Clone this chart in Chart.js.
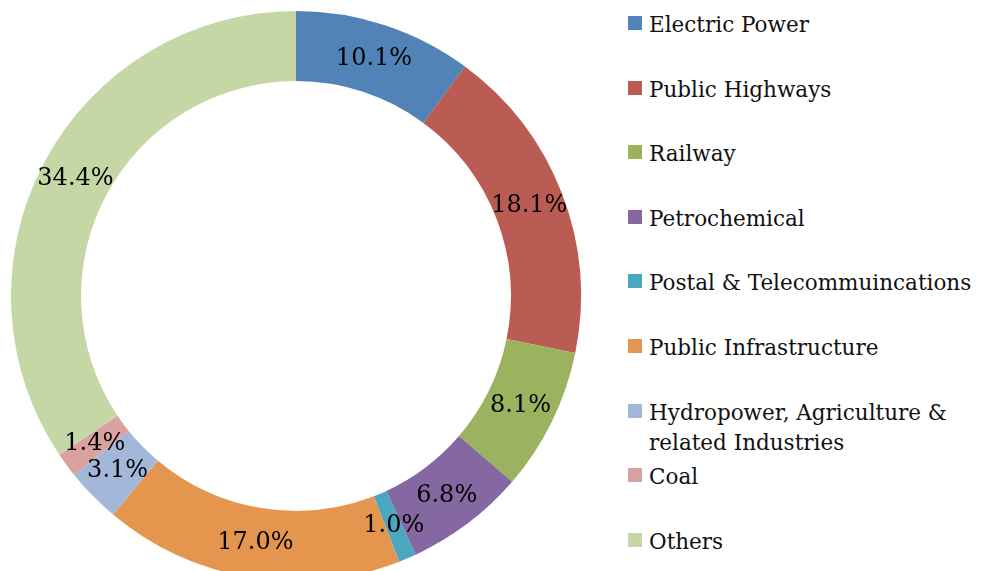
<!DOCTYPE html>
<html>
<head>
<meta charset="utf-8">
<script src="https://cdn.jsdelivr.net/npm/chart.js@4.4.1/dist/chart.umd.min.js"></script>
<style>
  html, body { margin: 0; padding: 0; background: #fff; width: 982px; height: 571px; overflow: hidden; }
  #wrap { position: absolute; left: 0; top: 0; width: 592px; height: 592px; }
  #legend { position: absolute; left: 628px; top: 0; font-family: 'DejaVu Serif', serif; font-size: 21.5px; color: #111; }
  .item { position: absolute; left: 0; white-space: nowrap; line-height: 30px; }
  .box { position: absolute; left: 0; top: 8px; width: 14px; height: 14px; }
  .txt { position: absolute; left: 21px; top: 2px; }
</style>
</head>
<body>
<div id="wrap"><canvas id="chart"></canvas></div>
<div id="legend"></div>
<script>
const categories = ['Electric Power', 'Public Highways', 'Railway', 'Petrochemical', 'Postal & Telecommuincations',
  'Public Infrastructure', 'Hydropower, Agriculture & related Industries', 'Coal', 'Others'];
const legendLines = [['Electric Power'], ['Public Highways'], ['Railway'], ['Petrochemical'], ['Postal & Telecommuincations'],
  ['Public Infrastructure'], ['Hydropower, Agriculture &', 'related Industries'], ['Coal'], ['Others']];
const shares = [10.1, 18.1, 8.1, 6.8, 1.0, 17.0, 3.1, 1.4, 34.4];
const colors = ['#5283b7', '#bb5c54', '#9bb35e', '#8568a1', '#4aa7bf', '#e4964e', '#a3b7d9', '#d9a19f', '#c6d7a6'];

// legend (html)
const legend = document.getElementById('legend');
legendLines.forEach((lines, i) => {
  const el = document.createElement('div');
  el.className = 'item';
  el.style.top = (8 + i * 64.6) + 'px';
  el.innerHTML = `<span class="box" style="background:${colors[i]}"></span><span class="txt">${lines.map(l => l.replace('&', '&amp;')).join('<br>')}</span>`;
  legend.appendChild(el);
});

const sliceLabels = {
  id: 'sliceLabels',
  afterDatasetsDraw(chart) {
    const { ctx } = chart;
    const meta = chart.getDatasetMeta(0);
    ctx.save();
    ctx.font = '24px "DejaVu Serif", serif';
    ctx.fillStyle = '#000';
    ctx.textAlign = 'center';
    ctx.textBaseline = 'middle';
    meta.data.forEach((arc, i) => {
      const p = arc.getCenterPoint();
      ctx.fillText(shares[i].toFixed(1) + '%', p.x, p.y);
    });
    ctx.restore();
  }
};

new Chart(document.getElementById('chart'), {
  type: 'doughnut',
  data: {
    labels: categories,
    datasets: [{ data: shares, backgroundColor: colors, borderWidth: 0 }]
  },
  options: {
    responsive: true,
    maintainAspectRatio: false,
    animation: false,
    cutout: '75.4%',
    layout: { padding: 11 },
    plugins: { legend: { display: false }, tooltip: { enabled: false } }
  },
  plugins: [sliceLabels]
});
</script>
</body>
</html>
